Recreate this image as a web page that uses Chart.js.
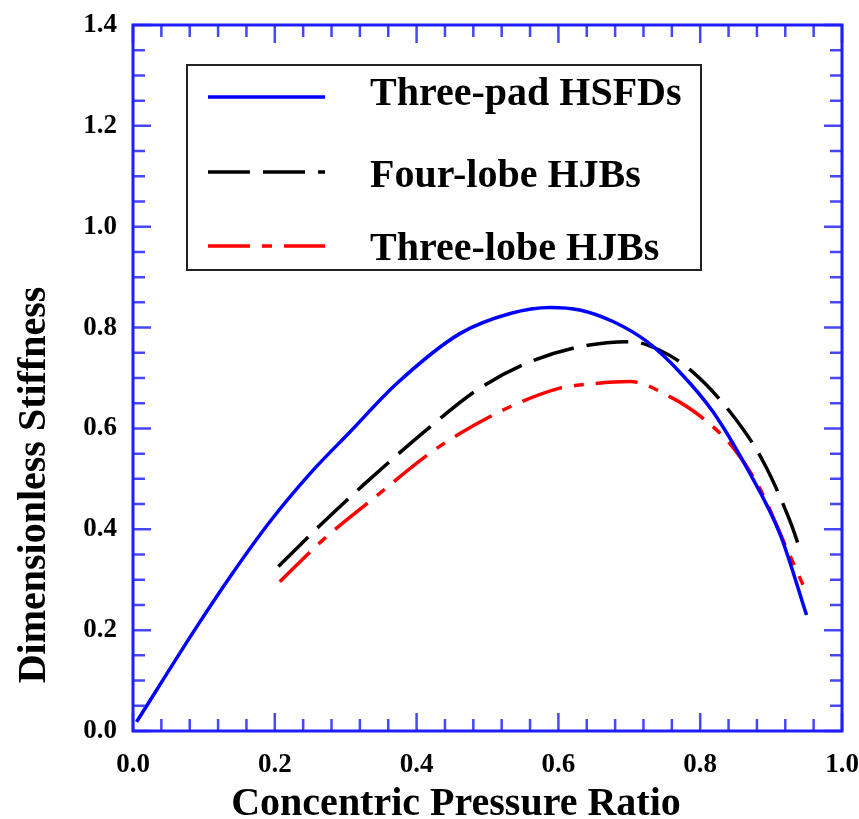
<!DOCTYPE html>
<html>
<head>
<meta charset="utf-8">
<script src="https://cdn.jsdelivr.net/npm/chart.js@4"></script>
<style>
  html, body { margin: 0; padding: 0; background: #fff; }
  #wrap { width: 859px; height: 819px; }
</style>
</head>
<body>
<div id="wrap"><canvas id="stiffChart" width="859" height="819"></canvas></div>
<script>
// Curves (x = concentric pressure ratio, y = dimensionless stiffness)
const threePadX = [0.005, 0.09, 0.137, 0.193, 0.25, 0.306, 0.372, 0.461, 0.532, 0.588, 0.630, 0.677, 0.725, 0.771, 0.818, 0.866, 0.913, 0.95];
const threePadY = [0.018, 0.207, 0.306, 0.415, 0.511, 0.593, 0.689, 0.788, 0.828, 0.840, 0.835, 0.812, 0.772, 0.712, 0.633, 0.521, 0.389, 0.230];

const fourLobeX = [0.205, 0.264, 0.325, 0.419, 0.485, 0.555, 0.630, 0.701, 0.743, 0.786, 0.842, 0.889, 0.927, 0.941];
const fourLobeY = [0.326, 0.408, 0.488, 0.603, 0.676, 0.729, 0.762, 0.772, 0.755, 0.716, 0.633, 0.534, 0.415, 0.359];

const threeLobeX = [0.207, 0.268, 0.339, 0.419, 0.461, 0.532, 0.602, 0.630, 0.701, 0.757, 0.804, 0.847, 0.884, 0.922, 0.945];
const threeLobeY = [0.296, 0.379, 0.461, 0.551, 0.590, 0.643, 0.680, 0.686, 0.693, 0.663, 0.620, 0.561, 0.481, 0.362, 0.290];

const seriesNames = ['Three-pad HSFDs', 'Four-lobe HJBs', 'Three-lobe HJBs'];
const xTitle = 'Concentric Pressure Ratio';
const yTitle = 'Dimensionless Stiffness';

const serif = "'Liberation Serif', 'DejaVu Serif', serif";

function toPoints(xs, ys) {
    return xs.map((v, i) => ({ x: v, y: ys[i] }));
}

// Frame, inward ticks on all four sides, axis titles and the boxed legend
const framePlugin = {
    id: 'frame',
    afterDraw(chart) {
        const ctx = chart.ctx;
        const { left, right, top, bottom } = chart.chartArea;
        const xs = chart.scales.x, ys = chart.scales.y;
        ctx.save();

        // ticks
        ctx.strokeStyle = 'rgb(70,70,255)';
        ctx.lineWidth = 2.5;
        ctx.beginPath();
        for (let i = 0; i <= 25; i++) {
            const px = xs.getPixelForValue(i * 0.04);
            const len = i % 5 === 0 ? 18 : 12;
            ctx.moveTo(px, bottom); ctx.lineTo(px, bottom - len);
            ctx.moveTo(px, top); ctx.lineTo(px, top + len);
        }
        for (let i = 0; i <= 28; i++) {
            const py = ys.getPixelForValue(i * 0.05);
            const len = i % 4 === 0 ? 18 : 12;
            ctx.moveTo(left, py); ctx.lineTo(left + len, py);
            ctx.moveTo(right, py); ctx.lineTo(right - len, py);
        }
        ctx.stroke();

        // frame
        ctx.strokeStyle = 'rgb(30,30,255)';
        ctx.lineWidth = 3;
        ctx.strokeRect(left, top, right - left, bottom - top);

        // axis titles
        ctx.fillStyle = '#000';
        ctx.font = 'bold 40px ' + serif;
        ctx.textAlign = 'center';
        ctx.textBaseline = 'alphabetic';
        ctx.fillText(xTitle, 456, 815);
        ctx.save();
        ctx.translate(45, 485);
        ctx.rotate(-Math.PI / 2);
        ctx.fillText(yTitle, 0, 0);
        ctx.restore();

        // legend
        ctx.strokeStyle = '#222';
        ctx.lineWidth = 2;
        ctx.strokeRect(187, 65, 514, 205);
        const lineRows = [97, 172, 246];
        const textRows = [105, 187, 260];
        ctx.font = 'bold 40px ' + serif;
        ctx.textAlign = 'left';
        chart.data.datasets.forEach((ds, i) => {
            ctx.strokeStyle = ds.borderColor;
            ctx.lineWidth = ds.borderWidth;
            ctx.setLineDash(ds.borderDash || []);
            ctx.beginPath();
            ctx.moveTo(208, lineRows[i]);
            ctx.lineTo(325, lineRows[i]);
            ctx.stroke();
            ctx.setLineDash([]);
            ctx.fillText(ds.label, 370, textRows[i]);
        });
        ctx.restore();
    }
};

new Chart(document.getElementById('stiffChart'), {
    type: 'line',
    data: {
        datasets: [{
            label: seriesNames[0],
            data: toPoints(threePadX, threePadY),
            borderColor: '#0000ff',
            borderWidth: 3.5,
            cubicInterpolationMode: 'monotone'
        }, {
            label: seriesNames[1],
            data: toPoints(fourLobeX, fourLobeY),
            borderColor: '#000000',
            borderWidth: 3.5,
            borderDash: [42, 13],
            cubicInterpolationMode: 'monotone'
        }, {
            label: seriesNames[2],
            data: toPoints(threeLobeX, threeLobeY),
            borderColor: '#ff0000',
            borderWidth: 3.5,
            borderDash: [42, 12, 10, 12],
            cubicInterpolationMode: 'monotone'
        }]
    },
    options: {
        responsive: false,
        animation: false,
        elements: { point: { radius: 0 } },
        layout: { padding: { top: 25, right: 17, left: 0, bottom: 0 } },
        plugins: {
            legend: { display: false },
            tooltip: { enabled: false }
        },
        scales: {
            x: {
                type: 'linear',
                min: 0,
                max: 1,
                grid: { display: false, drawTicks: false },
                border: { display: false },
                ticks: {
                    stepSize: 0.2,
                    padding: 18,
                    color: '#000',
                    font: { family: serif, size: 27, weight: 'bold' },
                    callback: v => v.toFixed(1)
                },
                afterFit: s => { s.height = 88; s.paddingLeft = 0; s.paddingRight = 0; }
            },
            y: {
                min: 0,
                max: 1.4,
                grid: { display: false, drawTicks: false },
                border: { display: false },
                ticks: {
                    stepSize: 0.2,
                    padding: 16,
                    color: '#000',
                    font: { family: serif, size: 27, weight: 'bold' },
                    callback: v => v.toFixed(1)
                },
                afterFit: s => { s.width = 133; s.paddingTop = 0; s.paddingBottom = 0; }
            }
        }
    },
    plugins: [framePlugin]
});
</script>
</body>
</html>
